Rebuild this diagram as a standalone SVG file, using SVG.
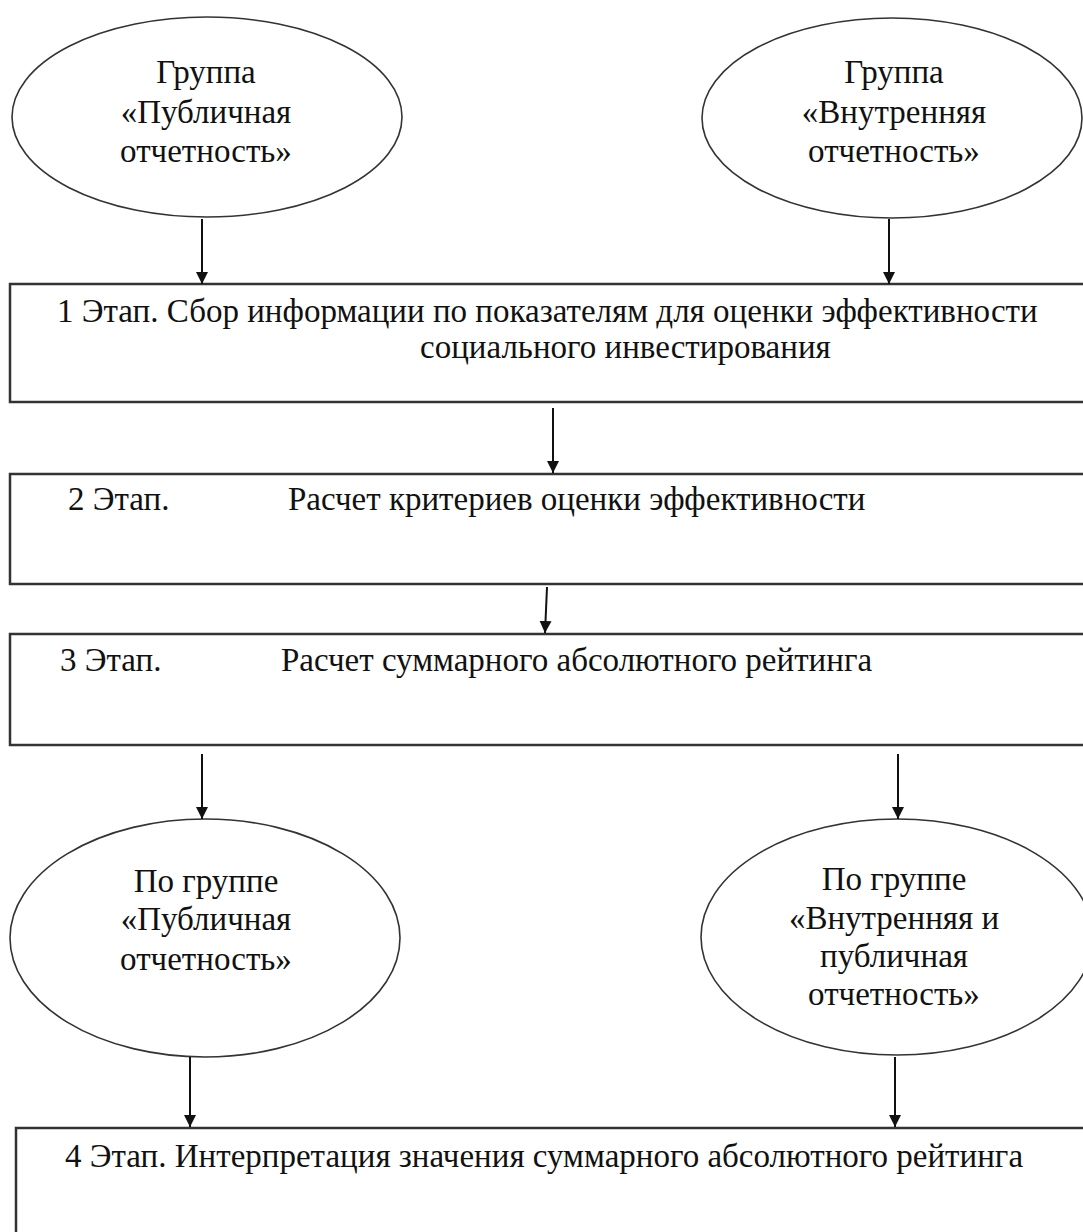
<svg xmlns="http://www.w3.org/2000/svg" width="1083" height="1232" viewBox="0 0 1083 1232">
<style>
.box{fill:#fff;stroke:#333;stroke-width:2.5}
.ell{fill:#fff;stroke:#333;stroke-width:1.6}
.t{font-family:"Liberation Serif","Times New Roman",serif;font-size:33px;fill:#111}
.c{text-anchor:middle}
.con{stroke:#111;stroke-width:2;fill:none;marker-end:url(#arr)}
</style>
<defs>
<marker id="arr" markerUnits="userSpaceOnUse" markerWidth="14" markerHeight="14" viewBox="0 0 14 14" refX="12" refY="7" orient="auto">
<path d="M0,1 L12,7 L0,13 Z" fill="#111"/>
</marker>
</defs>
<rect width="1083" height="1232" fill="#fff"/>
<g id="n_pub">
<ellipse class="ell" cx="207" cy="117" rx="195" ry="100"/>
<text class="t c" x="206" y="83">Группа</text>
<text class="t c" x="206" y="123">«Публичная</text>
<text class="t c" x="206" y="162">отчетность»</text>
</g>
<g id="n_int">
<ellipse class="ell" cx="892" cy="118" rx="190" ry="100"/>
<text class="t c" x="894" y="83">Группа</text>
<text class="t c" x="894" y="123">«Внутренняя</text>
<text class="t c" x="894" y="162">отчетность»</text>
</g>
<g id="n_s1">
<rect class="box" x="10" y="284" width="1085" height="118"/>
<text class="t" x="57" y="322">1 Этап. Сбор информации по показателям для оценки эффективности</text>
<text class="t" x="420" y="358">социального инвестирования</text>
</g>
<g id="n_s2">
<rect class="box" x="10" y="474" width="1085" height="110"/>
<text class="t" x="68" y="510">2 Этап.</text>
<text class="t" x="288" y="510">Расчет критериев оценки эффективности</text>
</g>
<g id="n_s3">
<rect class="box" x="10" y="634" width="1085" height="111"/>
<text class="t" x="60" y="671">3 Этап.</text>
<text class="t" x="281" y="671">Расчет суммарного абсолютного рейтинга</text>
</g>
<g id="n_g_pub">
<ellipse class="ell" cx="205" cy="938" rx="195" ry="119"/>
<text class="t c" x="206" y="892">По группе</text>
<text class="t c" x="206" y="930">«Публичная</text>
<text class="t c" x="206" y="970">отчетность»</text>
</g>
<g id="n_g_int">
<ellipse class="ell" cx="897" cy="937" rx="196" ry="118"/>
<text class="t c" x="894" y="890">По группе</text>
<text class="t c" x="894" y="929">«Внутренняя и</text>
<text class="t c" x="894" y="967">публичная</text>
<text class="t c" x="894" y="1005">отчетность»</text>
</g>
<g id="n_s4">
<rect class="box" x="16" y="1128" width="1085" height="130"/>
<text class="t" x="65" y="1167">4 Этап. Интерпретация значения суммарного абсолютного рейтинга</text>
</g>
<g id="connectors">
<line class="con" x1="202" y1="219" x2="202" y2="284"/>
<line class="con" x1="889" y1="219" x2="889" y2="284"/>
<line class="con" x1="553" y1="408" x2="553" y2="473"/>
<line class="con" x1="547" y1="587" x2="545" y2="633"/>
<line class="con" x1="202" y1="754" x2="202" y2="819"/>
<line class="con" x1="898" y1="754" x2="898" y2="819"/>
<line class="con" x1="190" y1="1057" x2="190" y2="1127"/>
<line class="con" x1="895" y1="1057" x2="895" y2="1127"/>
</g>
</svg>
